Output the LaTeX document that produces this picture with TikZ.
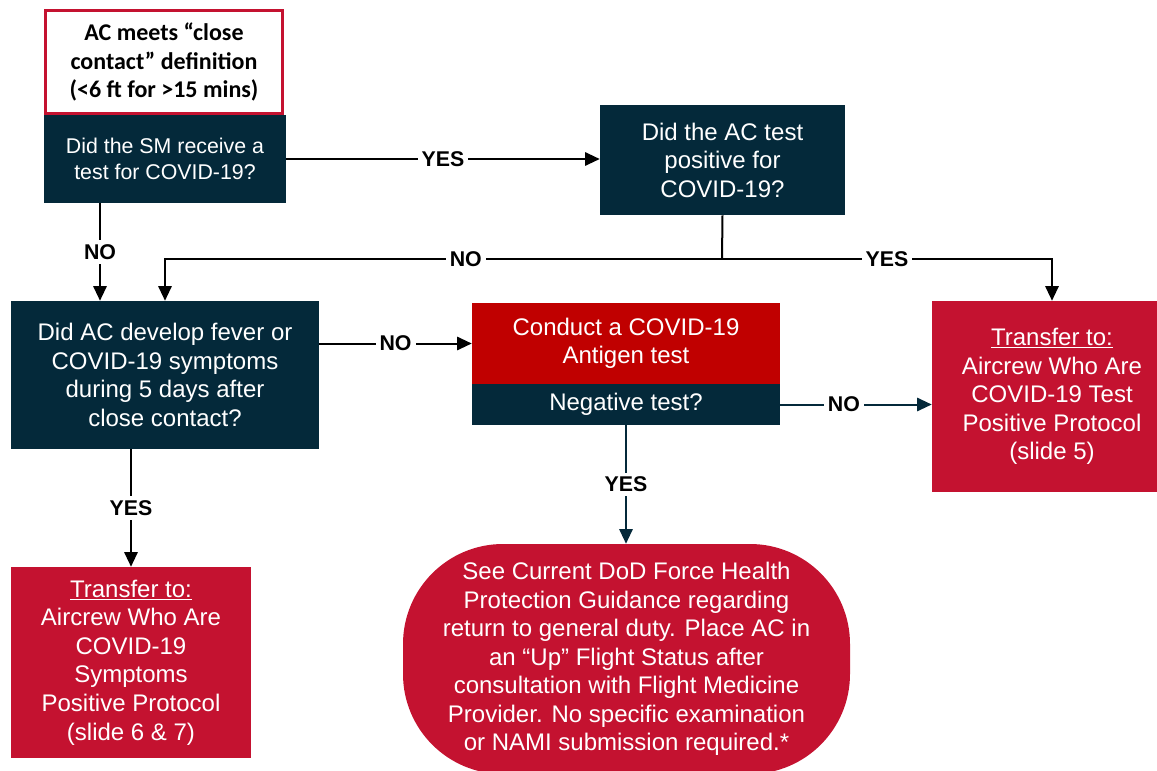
\documentclass[tikz,border=0pt]{standalone}
\usepackage{fontspec}
\setmainfont{Liberation Sans}
\newfontfamily\calibri{Carlito}
\usetikzlibrary{arrows.meta}
\definecolor{navy}{RGB}{4,41,58}
\definecolor{crimson}{RGB}{196,18,48}
\definecolor{darkred}{RGB}{192,0,0}

\begin{document}
\begin{tikzpicture}[x=0.75pt,y=-0.75pt,
    box/.style={rectangle,align=center,text=white,inner sep=0pt,font=\fontsize{18}{21.4}\selectfont},
    navybox/.style={box,fill=navy},
    redbox/.style={box,fill=crimson},
    arr/.style={line width=1.5pt,-{Triangle[width=10pt,length=11pt]}},
    lbl/.style={fill=white,text=black,inner sep=3pt,font=\fontsize{16}{18}\selectfont\bfseries}]
    \useasboundingbox (0,0) rectangle (1157,771);
    \node[box,draw=crimson,line width=2.25pt,fill=white,text=black,minimum width=177.75pt,minimum height=77.25pt,
        font=\calibri\bfseries\fontsize{18}{21.4}\selectfont] (contact) at (164,62)
        {AC meets “close\\contact” definition\\(<6 ft for >15 mins)};
    \node[navybox,minimum width=181.5pt,minimum height=66pt,font=\fontsize{16}{19.5}\selectfont] (sm) at (165,159)
        {Did the SM receive a\\test for COVID-19?};
    \node[navybox,minimum width=183.75pt,minimum height=82.5pt] (pos) at (722.5,160)
        {Did the AC test\\positive for\\COVID-19?};
    \node[navybox,minimum width=231pt,minimum height=111pt] (sym) at (165,375)
        {Did AC develop fever or\\COVID-19 symptoms\\during 5 days after\\close contact?};
    \node[box,fill=darkred,minimum width=231pt,minimum height=60.75pt] (ag) at (626,343.5)
        {Conduct a COVID-19\\Antigen test};
    \node[navybox,minimum width=231pt,minimum height=30.75pt] (neg) at (626,404.5)
        {Negative test?};
    \node[redbox,minimum width=180pt,minimum height=143.25pt] (tpos) at (1052,396.5)
        {\underline{Transfer to:}\\Aircrew Who Are\\COVID-19 Test\\Positive Protocol\\(slide 5)};
    \node[redbox,minimum width=180pt,minimum height=143.25pt] (spos) at (131,662.5)
        {\underline{Transfer to:}\\Aircrew Who Are\\COVID-19\\Symptoms\\Positive Protocol\\(slide 6 \& 7)};
    \node[redbox,rounded corners=75pt,minimum width=335.25pt,minimum height=172.5pt] (oval) at (626.5,659)
        {See Current DoD Force Health\\Protection Guidance regarding\\return to general duty. Place AC in\\an “Up” Flight Status after\\consultation with Flight Medicine\\Provider. No specific examination\\or NAMI submission required.*};

    \coordinate (split) at (722,259);
    \coordinate (nobranch) at (100,0);
    \draw[arr] (sm.east) -- node[lbl]{YES} (pos.west |- sm.east);
    \draw[arr] (sm.south -| nobranch) -- node[lbl]{NO} (sym.north -| nobranch);
    \draw[line width=1.5pt] (pos.south) -- (split);
    \draw[arr] (split) -| node[lbl,pos=0.23]{NO} (sym.north);
    \draw[arr] (split) -| node[lbl,pos=0.25]{YES} (tpos.north);
    \draw[arr] (ag.west -| sym.east) -- node[lbl]{NO} (ag.west);
    \draw[arr,navy] (neg.east) -- node[lbl,pos=0.42]{NO} (tpos.west |- neg.east);
    \draw[arr,navy] (neg.south) -- node[lbl]{YES} (neg.south |- oval.north);
    \draw[arr] (spos.north |- sym.south) -- node[lbl]{YES} (spos.north);
\end{tikzpicture}
\end{document}
